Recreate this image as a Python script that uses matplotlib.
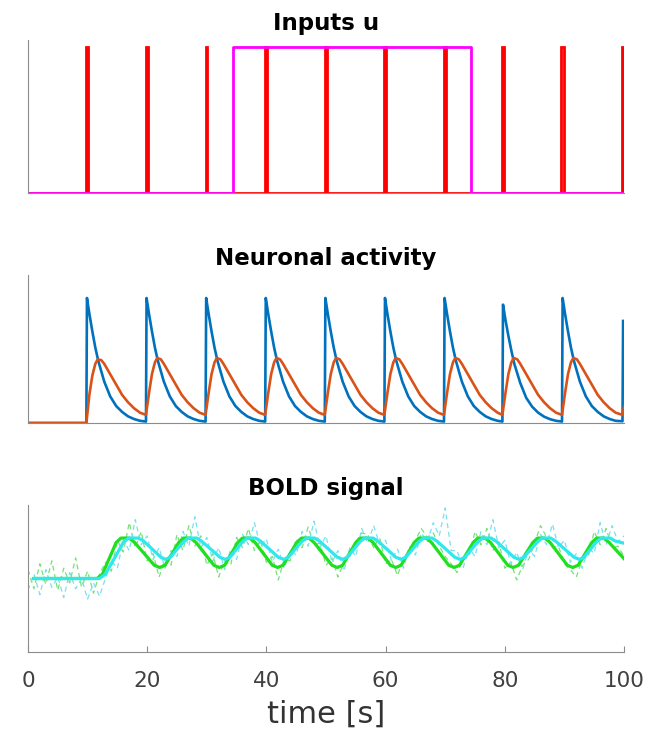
import matplotlib
matplotlib.use("Agg")
import matplotlib.pyplot as plt

# ---- inputs u ----
stim_onsets = [9.8, 19.8, 29.8, 39.8, 49.8, 59.8, 69.8, 79.6, 89.4, 99.7]
stim_widths = [0.3, 0.3, 0.3, 0.35, 0.3, 0.3, 0.3, 0.3, 0.6, 0.2]
block_on = 34.4
block_off = 74.3

# ---- neuronal activity (one row per cycle) ----
cycle_onsets = [9.8, 19.8, 29.8, 39.8, 49.8, 59.8, 69.8, 79.6, 89.6]
blue_dt = [0, 0.1, 0.5, 1, 1.5, 2, 3, 4, 5, 6, 7, 8, 9]
blue_vals = [
    [0.0, 0.845, 0.74, 0.62, 0.51, 0.42, 0.28, 0.18, 0.115, 0.075, 0.045, 0.027, 0.015],
    [0.01, 0.845, 0.74, 0.62, 0.51, 0.42, 0.28, 0.18, 0.115, 0.075, 0.045, 0.027, 0.015],
    [0.01, 0.845, 0.74, 0.62, 0.51, 0.42, 0.28, 0.18, 0.115, 0.075, 0.045, 0.027, 0.015],
    [0.01, 0.845, 0.74, 0.62, 0.51, 0.42, 0.28, 0.18, 0.115, 0.075, 0.045, 0.027, 0.015],
    [0.01, 0.845, 0.74, 0.62, 0.51, 0.42, 0.28, 0.18, 0.115, 0.075, 0.045, 0.027, 0.015],
    [0.01, 0.845, 0.74, 0.62, 0.51, 0.42, 0.28, 0.18, 0.115, 0.075, 0.045, 0.027, 0.015],
    [0.01, 0.845, 0.74, 0.62, 0.51, 0.42, 0.28, 0.18, 0.115, 0.075, 0.045, 0.027, 0.015],
    [0.01, 0.80, 0.70, 0.59, 0.49, 0.40, 0.27, 0.17, 0.11, 0.07, 0.043, 0.026, 0.015],
    [0.01, 0.845, 0.74, 0.62, 0.51, 0.42, 0.28, 0.18, 0.115, 0.075, 0.045, 0.027, 0.015],
]
orange_dt = [0, 0.5, 1.0, 1.5, 1.9, 2.5, 3, 4, 5, 6, 7, 8, 9]
orange_vals = [
    [0.0, 0.19, 0.32, 0.40, 0.43, 0.425, 0.40, 0.33, 0.26, 0.19, 0.14, 0.10, 0.07],
    [0.055, 0.2, 0.33, 0.41, 0.44, 0.43, 0.40, 0.33, 0.26, 0.19, 0.14, 0.10, 0.07],
    [0.055, 0.2, 0.33, 0.41, 0.44, 0.43, 0.40, 0.33, 0.26, 0.19, 0.14, 0.10, 0.07],
    [0.055, 0.2, 0.33, 0.41, 0.44, 0.43, 0.40, 0.33, 0.26, 0.19, 0.14, 0.10, 0.07],
    [0.055, 0.2, 0.33, 0.41, 0.44, 0.43, 0.40, 0.33, 0.26, 0.19, 0.14, 0.10, 0.07],
    [0.055, 0.2, 0.33, 0.41, 0.44, 0.43, 0.40, 0.33, 0.26, 0.19, 0.14, 0.10, 0.07],
    [0.055, 0.2, 0.33, 0.41, 0.44, 0.43, 0.40, 0.33, 0.26, 0.19, 0.14, 0.10, 0.07],
    [0.055, 0.2, 0.33, 0.41, 0.44, 0.43, 0.40, 0.33, 0.26, 0.19, 0.14, 0.10, 0.07],
    [0.055, 0.2, 0.33, 0.41, 0.44, 0.43, 0.40, 0.33, 0.26, 0.19, 0.14, 0.10, 0.07],
]
blue_tail_t = [99.75, 99.85]
blue_tail_v = [0.012, 0.69]
orange_tail_t = [99.75, 100]
orange_tail_v = [0.055, 0.11]

# ---- BOLD signal ----
green_t = [1, 11.6, 12.5, 14.8, 15.6, 17.0, 17.9, 21.2, 22.1,
           23.0, 25.3, 26.1, 27.3, 28.2, 31.2, 32.1,
           33.0, 35.2, 36.0, 37.2, 38.1, 41.0, 41.9,
           42.8, 45.1, 45.9, 47.1, 48.0, 51.0, 51.9,
           52.8, 55.0, 55.8, 57.0, 57.9, 60.8, 61.7,
           62.6, 64.8, 65.6, 66.8, 67.7, 70.6, 71.5,
           72.4, 74.7, 75.5, 76.7, 77.6, 80.5, 81.4,
           82.3, 84.7, 85.5, 86.7, 87.6, 90.5, 91.4,
           92.3, 94.6, 95.4, 96.6, 97.5, 100]
green_v = [0.50, 0.50, 0.53, 0.745, 0.775, 0.775, 0.745, 0.59, 0.575,
           0.59, 0.745, 0.775, 0.775, 0.745, 0.59, 0.575,
           0.59, 0.745, 0.775, 0.775, 0.745, 0.59, 0.575,
           0.59, 0.745, 0.775, 0.775, 0.745, 0.59, 0.575,
           0.59, 0.745, 0.775, 0.775, 0.745, 0.59, 0.575,
           0.59, 0.745, 0.775, 0.775, 0.745, 0.59, 0.575,
           0.59, 0.745, 0.775, 0.775, 0.745, 0.59, 0.575,
           0.59, 0.745, 0.775, 0.775, 0.745, 0.59, 0.575,
           0.59, 0.745, 0.775, 0.775, 0.745, 0.635]
cyan_t = [1, 12.0, 13.0, 16.0, 16.9, 18.5, 19.4, 22.3, 23.1,
          23.9, 26.1, 26.9, 28.3, 29.1, 32.2, 33.1,
          33.9, 36.0, 36.8, 38.2, 39.0, 42.0, 42.9,
          43.7, 45.9, 46.7, 48.1, 48.9, 51.9, 52.8,
          53.6, 55.7, 56.5, 57.9, 58.7, 61.7, 62.6,
          63.4, 65.6, 66.4, 67.8, 68.6, 71.6, 72.5,
          73.3, 75.5, 76.3, 77.7, 78.5, 81.5, 82.4,
          83.2, 85.5, 86.3, 87.7, 88.5, 91.6, 92.5,
          93.3, 95.4, 96.2, 97.7, 98.5, 100]
cyan_v = [0.50, 0.50, 0.53, 0.745, 0.775, 0.775, 0.755, 0.645, 0.63,
          0.645, 0.75, 0.775, 0.775, 0.755, 0.645, 0.63,
          0.645, 0.75, 0.775, 0.775, 0.755, 0.645, 0.63,
          0.645, 0.75, 0.775, 0.775, 0.755, 0.645, 0.63,
          0.645, 0.75, 0.775, 0.775, 0.755, 0.645, 0.63,
          0.645, 0.75, 0.775, 0.775, 0.755, 0.645, 0.63,
          0.645, 0.75, 0.775, 0.775, 0.755, 0.645, 0.63,
          0.645, 0.75, 0.775, 0.775, 0.755, 0.645, 0.63,
          0.645, 0.75, 0.775, 0.775, 0.755, 0.74]

noisy_t = list(range(0, 101))
green_noisy = [0.56, 0.43, 0.60, 0.46, 0.62, 0.42, 0.57, 0.47, 0.64, 0.44, 0.55, 0.40, 0.53,
               0.61, 0.55, 0.76, 0.68, 0.88, 0.71, 0.82, 0.62, 0.67, 0.51,
               0.63, 0.59, 0.80, 0.69, 0.86, 0.72, 0.79, 0.59, 0.67, 0.51,
               0.62, 0.59, 0.78, 0.71, 0.84, 0.69, 0.76, 0.61, 0.65, 0.49,
               0.63, 0.62, 0.77, 0.71, 0.85, 0.73, 0.74, 0.59, 0.64, 0.51,
               0.61, 0.65, 0.75, 0.81, 0.80, 0.71, 0.78, 0.60, 0.63, 0.52,
               0.64, 0.66, 0.76, 0.84, 0.78, 0.81, 0.72, 0.65, 0.60, 0.54,
               0.63, 0.65, 0.82, 0.73, 0.84, 0.69, 0.75, 0.57, 0.61, 0.49,
               0.59, 0.63, 0.74, 0.86, 0.78, 0.71, 0.72, 0.60, 0.56, 0.51,
               0.63, 0.65, 0.82, 0.73, 0.84, 0.71, 0.72, 0.65]
cyan_noisy = [0.42, 0.53, 0.39, 0.56, 0.44, 0.51, 0.37, 0.54, 0.43, 0.50, 0.36, 0.47, 0.38,
              0.50, 0.62, 0.57, 0.76, 0.69, 0.90, 0.73, 0.79, 0.63, 0.71, 0.57,
              0.69, 0.65, 0.82, 0.72, 0.92, 0.71, 0.78, 0.62, 0.71, 0.56,
              0.70, 0.63, 0.80, 0.73, 0.88, 0.72, 0.77, 0.61, 0.70, 0.57,
              0.69, 0.66, 0.82, 0.72, 0.89, 0.71, 0.79, 0.61, 0.69, 0.55,
              0.71, 0.65, 0.84, 0.74, 0.86, 0.73, 0.76, 0.62, 0.70, 0.57,
              0.72, 0.66, 0.81, 0.75, 0.88, 0.79, 0.98, 0.69, 0.69, 0.57,
              0.71, 0.65, 0.82, 0.73, 0.90, 0.71, 0.76, 0.60, 0.68, 0.56,
              0.70, 0.65, 0.80, 0.73, 0.87, 0.71, 0.76, 0.61, 0.67, 0.57,
              0.71, 0.67, 0.88, 0.73, 0.86, 0.75, 0.79]

time_ticks = [0, 20, 40, 60, 80, 100]

# build step series for the inputs
red_t, red_v = [0], [0]
for t0, w in zip(stim_onsets, stim_widths):
    red_t += [t0, t0, t0 + w, t0 + w]
    red_v += [0, 1, 1, 0]
red_t.append(100)
red_v.append(0)
mag_t = [0, block_on, block_on, block_off, block_off, 100]
mag_v = [0, 0, 1, 1, 0, 0]

# neuronal series from cycles
nb_t, nb_v = [0], [0]
no_t, no_v = [0], [0]
for t0, bv, ov in zip(cycle_onsets, blue_vals, orange_vals):
    nb_t += [t0 + d for d in blue_dt]
    nb_v += bv
    no_t += [t0 + d for d in orange_dt]
    no_v += ov
nb_t += blue_tail_t
nb_v += blue_tail_v
no_t += orange_tail_t
no_v += orange_tail_v

spine_col = "#8c8c8c"
tick_col = "#404040"

fig = plt.figure(figsize=(6.5, 7.37), dpi=100)
ax1 = fig.add_axes([0.043, 0.738, 0.917, 0.2076])
ax2 = fig.add_axes([0.043, 0.426, 0.917, 0.2008])
ax3 = fig.add_axes([0.043, 0.1153, 0.917, 0.1995])

for ax in (ax1, ax2, ax3):
    ax.spines["top"].set_visible(False)
    ax.spines["right"].set_visible(False)
    ax.spines["left"].set_color(spine_col)
    ax.spines["bottom"].set_color(spine_col)
    ax.set_xlim(0, 100)
    ax.set_yticks([])

ax1.plot(red_t, red_v, color="#ff0000", lw=2.0, solid_joinstyle="miter")
ax1.plot(mag_t, mag_v, color="#ff00ff", lw=2.0)
ax1.set_ylim(0, 1.048)
ax1.set_xticks([])
ax1.set_title("Inputs u", fontsize=16.5, fontweight="bold", pad=7)

ax2.plot(nb_t, nb_v, color="#0072bd", lw=1.9)
ax2.plot(no_t, no_v, color="#d95319", lw=1.9)
ax2.set_ylim(0, 1)
ax2.set_xticks([])
ax2.set_title("Neuronal activity", fontsize=16.5, fontweight="bold", pad=7)

ax3.plot(noisy_t, green_noisy, color="#78e078", lw=0.9, ls=(0, (4, 3)))
ax3.plot(noisy_t, cyan_noisy, color="#78e0f0", lw=0.9, ls=(0, (4, 3)))
ax3.plot(green_t, green_v, color="#1ee01e", lw=2.3)
ax3.plot(cyan_t, cyan_v, color="#2ee8ee", lw=2.3)
ax3.set_ylim(0, 1)
ax3.set_xticks(time_ticks)
ax3.tick_params(axis="x", direction="in", length=4, width=0.8, color=spine_col,
                labelcolor=tick_col, labelsize=15.5, pad=14)
ax3.set_xlabel("time [s]", fontsize=22, color="#333333", labelpad=6)
ax3.set_title("BOLD signal", fontsize=16.5, fontweight="bold", pad=7)

fig.savefig("out.png", dpi=100)
